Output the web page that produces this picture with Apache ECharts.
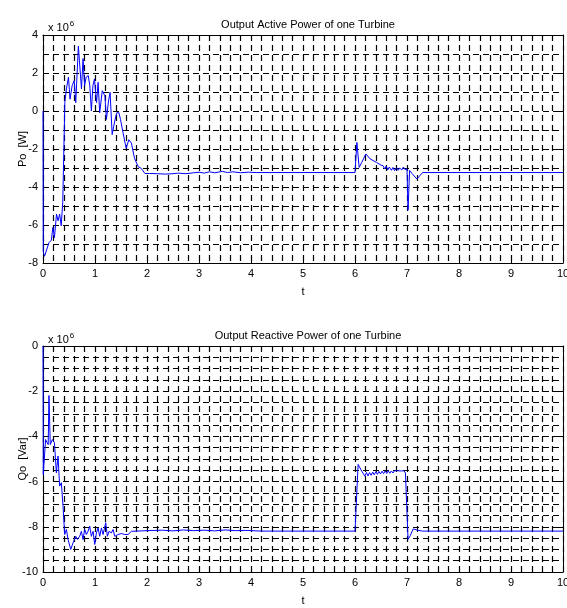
<!DOCTYPE html>
<html>
<head>
<meta charset="utf-8">
<script src="https://cdn.jsdelivr.net/npm/echarts@6/dist/echarts.min.js"></script>
<style>
  html, body { margin: 0; padding: 0; background: #fff; }
  #chart { width: 567px; height: 608px; }
</style>
</head>
<body>
<div id="chart"></div>
<script>
// Active power of one turbine (units of 1e6 W) against time t [s]
const tActive = [0, 0.005, 0.03, 0.06, 0.115, 0.16, 0.19, 0.22, 0.26, 0.29, 0.32, 0.35, 0.38, 0.42, 0.45, 0.49, 0.52, 0.56, 0.6, 0.63,
  0.68, 0.7, 0.74, 0.77, 0.8, 0.83, 0.87, 0.9, 0.93, 0.96, 0.99, 1.03, 1.06, 1.09, 1.14, 1.19, 1.22, 1.26, 1.29, 1.33,
  1.36, 1.4, 1.42, 1.46, 1.49, 1.54, 1.6, 1.65, 1.7, 1.76, 1.83, 1.89, 1.96, 2.05, 2.2, 2.35, 2.5, 2.6, 2.75, 2.9,
  3.0, 3.1, 3.2, 3.3, 3.45, 3.55, 3.65, 3.8, 3.95, 4.1, 6.0, 6.036, 6.08, 6.13, 6.21, 6.29, 6.41, 6.5, 6.54, 6.57,
  6.6, 6.63, 6.66, 6.7, 6.73, 6.76, 6.8, 6.83, 6.86, 6.9, 6.93, 6.96, 7.0, 7.02, 7.05, 7.1, 7.19, 7.3, 10];
const pActive = [0, -7.4, -7.64, -7.73, -6.93, -6.8, -6.13, -6.67, -5.42, -5.78, -5.42, -6.04, -4.8, 0.44, 1.16, 1.78, 0.62, 1.33, 1.6, 0.44,
  3.41, 2.67, 1.16, 2.76, 1.33, 1.78, 1.87, 1.33, 0, 1.33, 1.69, 0.44, 1.51, -0.09, 1.07, 0.8, -0.44, 0.53, 0.98, -1.24,
  -0.8, -0.27, -0.09, -0.09, -0.44, -1.16, -1.96, -1.51, -1.69, -2.49, -2.93, -3.02, -3.29, -3.29, -3.3, -3.32, -3.3, -3.27, -3.3, -3.25,
  -3.22, -3.27, -3.2, -3.25, -3.18, -3.24, -3.2, -3.25, -3.22, -3.24, -3.24, -1.65, -2.97, -2.7, -2.26, -2.52, -2.7, -2.85, -2.88, -3.05,
  -2.9, -3.1, -2.95, -3.12, -2.97, -3.14, -2.98, -3.12, -3.0, -3.1, -2.95, -3.08, -3.05, -5.22, -3.13, -3.3, -3.58, -3.24, -3.24];

// Reactive power of one turbine (units of 1e6 Var) against time t [s]
const tReactive = [0, 0.005, 0.05, 0.1, 0.115, 0.14, 0.18, 0.22, 0.257, 0.289, 0.32, 0.353, 0.385, 0.417, 0.45, 0.482, 0.533, 0.578, 0.63, 0.661,
  0.706, 0.738, 0.77, 0.802, 0.834, 0.866, 0.898, 0.93, 0.963, 0.995, 1.027, 1.059, 1.091, 1.123, 1.155, 1.206, 1.238, 1.27, 1.315, 1.347,
  1.38, 1.444, 1.508, 1.572, 1.604, 1.636, 1.7, 1.732, 2.0, 2.3, 2.5, 2.7, 2.9, 3.1, 3.3, 3.5, 3.7, 3.9, 4.2, 6.0,
  6.06, 6.13, 6.19, 6.22, 6.25, 6.28, 6.31, 6.34, 6.37, 6.4, 6.43, 6.46, 6.49, 6.52, 6.55, 6.58, 6.61, 6.64, 6.67, 6.7,
  6.73, 6.76, 6.79, 6.82, 6.85, 6.88, 6.91, 6.94, 6.97, 6.99, 7.02, 7.06, 7.12, 7.2, 7.3, 10];
const qReactive = [0, -5.69, -4.14, -4.36, -2.19, -4.36, -4.14, -4.28, -5.61, -4.87, -6.2, -6.05, -7.09, -8.34, -8.12, -8.56, -9.0, -8.71, -8.42, -8.56,
  -8.42, -8.2, -8.56, -8.12, -8.34, -8.2, -7.97, -8.42, -8.2, -8.78, -8.27, -8.05, -8.42, -8.05, -8.34, -7.82, -8.42, -8.2, -8.27, -8.12,
  -8.42, -8.34, -8.3, -8.34, -8.27, -8.34, -8.2, -8.16, -8.17, -8.15, -8.18, -8.14, -8.17, -8.15, -8.18, -8.14, -8.17, -8.16, -8.19, -8.19,
  -5.24, -5.54, -5.76, -5.6, -5.75, -5.6, -5.72, -5.58, -5.7, -5.56, -5.68, -5.55, -5.66, -5.54, -5.65, -5.53, -5.64, -5.52, -5.63, -5.53,
  -5.62, -5.52, -5.6, -5.52, -5.6, -5.53, -5.6, -5.52, -5.62, -5.55, -8.56, -8.4, -8.09, -8.15, -8.19, -8.19];

const titles = ['Output Active Power of one Turbine', 'Output Reactive Power of one Turbine'];
const yNames = ['Po  [W]', 'Qo  [Var]'];
const xName = 't';

const zip = (xs, ys) => xs.map((x, i) => [x, ys[i]]);

const FONT = 'Liberation Sans, Arial, sans-serif';
const dashGrid = { color: '#000', width: 1.2, type: [6, 4] };
const labelStyle = { color: '#000', fontFamily: FONT, fontSize: 11 };

const grids = [
  { left: 43, top: 35, width: 520, height: 228, outerBoundsMode: 'none', containLabel: false },
  { left: 43, top: 346, width: 520, height: 226, outerBoundsMode: 'none', containLabel: false }
];
const yRanges = [
  { min: -8, max: 4, interval: 2, minorSplit: 2 },
  { min: -10, max: 0, interval: 2, minorSplit: 4 }
];

const xAxes = [];
const yAxes = [];
grids.forEach((g, i) => {
  // bottom axis with labels and dashed grid every 0.2
  xAxes.push({
    type: 'value', gridIndex: i, min: 0, max: 10, interval: 1, position: 'bottom',
    name: xName, nameLocation: 'middle', nameGap: 23, nameMoveOverlap: false,
    nameTextStyle: { color: '#000', fontFamily: FONT, fontSize: 11 },
    axisLine: { show: true, onZero: false, lineStyle: { color: '#000', width: 1 } },
    axisTick: { show: true, inside: true, length: 4, lineStyle: { color: '#000' } },
    axisLabel: Object.assign({ margin: 5 }, labelStyle),
    splitLine: { show: true, lineStyle: dashGrid },
    minorTick: { show: false, splitNumber: 5 },
    minorSplitLine: { show: true, lineStyle: dashGrid }
  });
  // top frame edge
  xAxes.push({
    type: 'value', gridIndex: i, min: 0, max: 10, interval: 1, position: 'top',
    axisLine: { show: true, onZero: false, lineStyle: { color: '#000', width: 1 } },
    axisTick: { show: true, inside: true, length: 4, lineStyle: { color: '#000' } },
    axisLabel: { show: false },
    splitLine: { show: false }
  });
  const r = yRanges[i];
  yAxes.push({
    type: 'value', gridIndex: i, min: r.min, max: r.max, interval: r.interval, position: 'left',
    name: yNames[i], nameLocation: 'middle', nameGap: 15, nameRotate: 90, nameMoveOverlap: false,
    nameTextStyle: { color: '#000', fontFamily: FONT, fontSize: 11 },
    axisLine: { show: true, onZero: false, lineStyle: { color: '#000', width: 1 } },
    axisTick: { show: true, inside: true, length: 4, lineStyle: { color: '#000' } },
    axisLabel: Object.assign({ margin: 5 }, labelStyle),
    splitLine: { show: true, lineStyle: dashGrid },
    minorTick: { show: false, splitNumber: r.minorSplit },
    minorSplitLine: { show: true, lineStyle: dashGrid }
  });
  // right frame edge
  yAxes.push({
    type: 'value', gridIndex: i, min: r.min, max: r.max, interval: r.interval, position: 'right',
    axisLine: { show: true, onZero: false, lineStyle: { color: '#000', width: 1 } },
    axisTick: { show: true, inside: true, length: 4, lineStyle: { color: '#000' } },
    axisLabel: { show: false },
    splitLine: { show: false }
  });
});

const exponentTitle = (top) => ({
  text: 'x 10{sup|6}', left: 43, top: top,
  textStyle: {
    color: '#000', fontFamily: FONT, fontSize: 11, fontWeight: 'normal',
    rich: { sup: { fontSize: 8, verticalAlign: 'top', padding: [0, 0, 8, 1], fontFamily: FONT, color: '#000' } }
  }
});

const option = {
  animation: false,
  backgroundColor: '#fff',
  title: [
    { text: titles[0], left: 303, top: 14, textAlign: 'center',
      textStyle: { color: '#000', fontFamily: FONT, fontSize: 11, fontWeight: 'normal' } },
    { text: titles[1], left: 303, top: 325, textAlign: 'center',
      textStyle: { color: '#000', fontFamily: FONT, fontSize: 11, fontWeight: 'normal' } },
    exponentTitle(15),
    exponentTitle(327)
  ],
  grid: grids,
  xAxis: xAxes,
  yAxis: yAxes,
  series: [
    { type: 'line', xAxisIndex: 0, yAxisIndex: 0, data: zip(tActive, pActive),
      showSymbol: false, lineStyle: { color: '#0000ff', width: 1 }, z: 5 },
    { type: 'line', xAxisIndex: 2, yAxisIndex: 2, data: zip(tReactive, qReactive),
      showSymbol: false, lineStyle: { color: '#0000ff', width: 1 }, z: 5 }
  ]
};

const chart = echarts.init(document.getElementById('chart'), null, { renderer: 'canvas' });
chart.setOption(option);
</script>
</body>
</html>
